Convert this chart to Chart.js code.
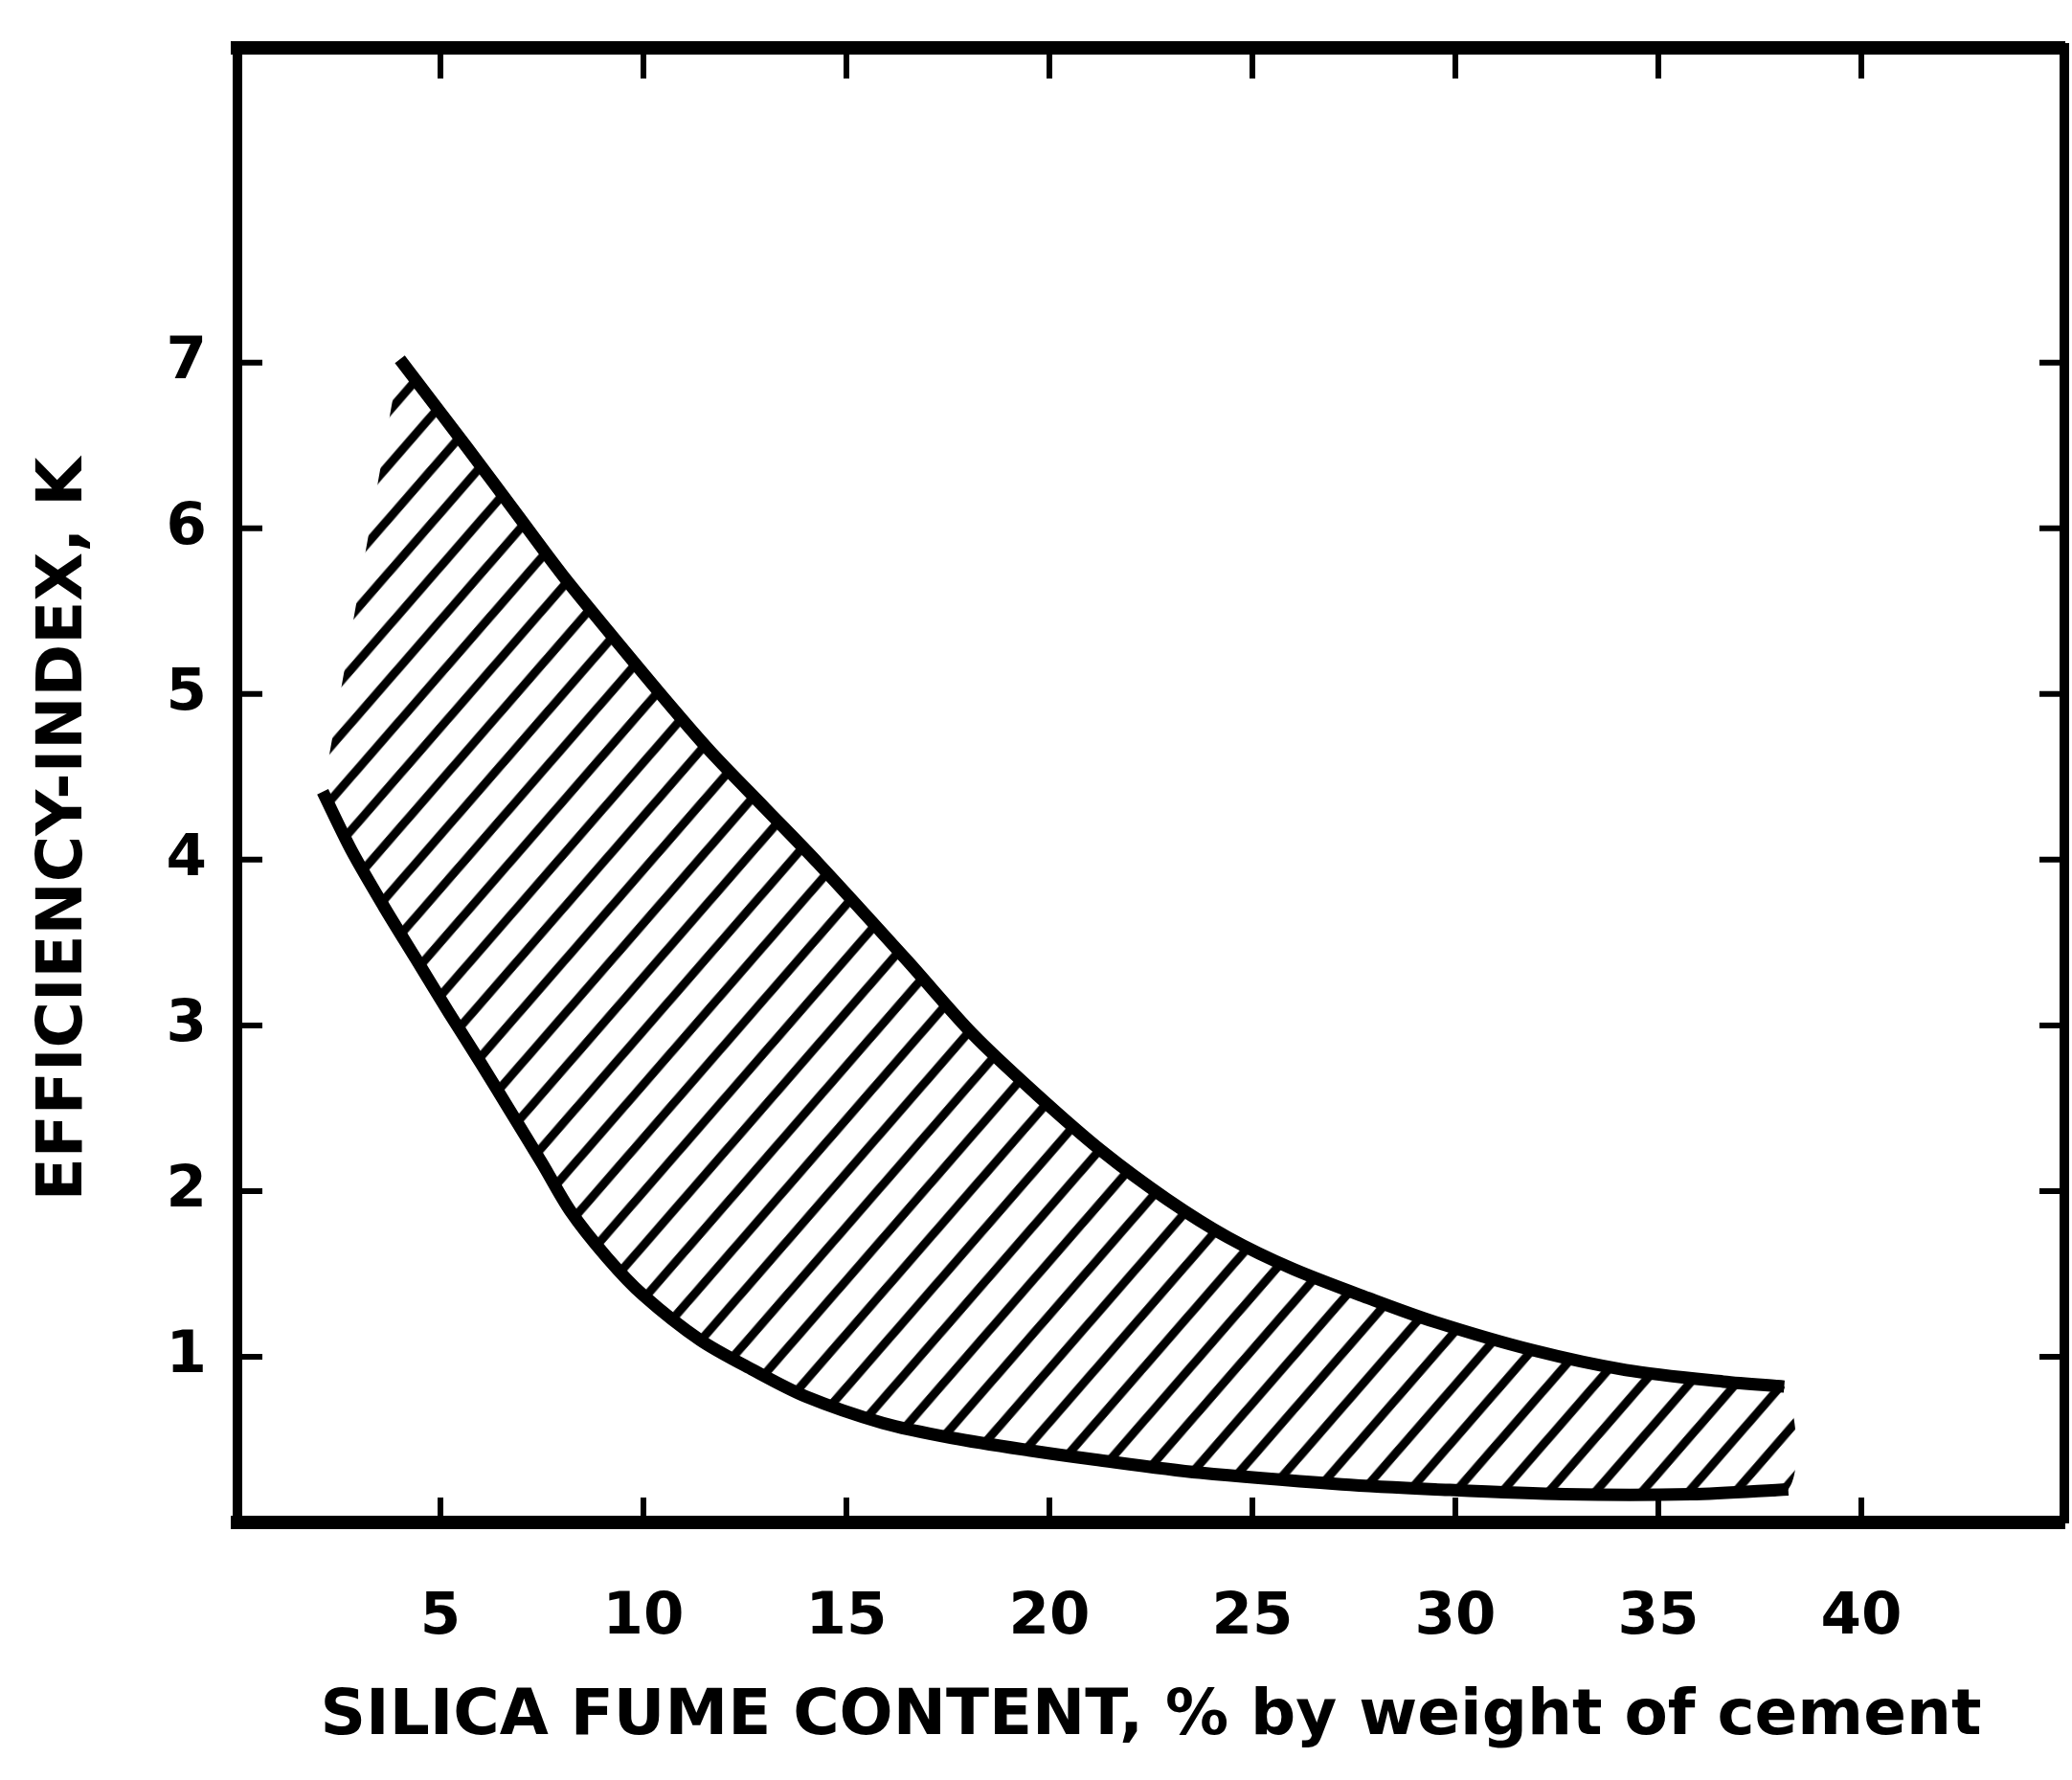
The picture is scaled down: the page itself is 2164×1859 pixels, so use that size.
<!DOCTYPE html>
<html>
<head>
<meta charset="utf-8">
<script src="https://cdn.jsdelivr.net/npm/chart.js@4/dist/chart.umd.min.js"></script>
<style>
  body { margin: 0; background: #fff; }
  canvas { display: block; }
</style>
</head>
<body>
<canvas id="chart" width="2164" height="1859"></canvas>
<script>
// upper boundary of the band (silica fume %, K)
const upperX = [4.0, 5.65, 6.9, 8.0, 9.2, 10.7, 11.7, 13.0, 14.3, 16.5, 18.1, 19.7, 21.3, 22.9, 24.4, 26.0, 27.9, 29.5, 31.9, 34.2, 36.6, 38.1];
const upperY = [7.02, 6.49, 6.08, 5.72, 5.36, 4.92, 4.64, 4.31, 3.98, 3.39, 2.95, 2.58, 2.24, 1.95, 1.72, 1.53, 1.35, 1.21, 1.04, 0.92, 0.85, 0.82];

// lower boundary of the band
const lowerX = [2.1, 2.8, 3.6, 4.4, 5.2, 6.0, 6.7, 7.5, 8.2, 9.1, 10.0, 11.4, 12.7, 14.0, 15.9, 17.6, 19.5, 21.1, 23.7, 27.2, 29.5, 32.7, 35.8, 38.2];
const lowerY = [4.41, 4.06, 3.72, 3.4, 3.08, 2.77, 2.49, 2.17, 1.88, 1.6, 1.37, 1.1, 0.92, 0.76, 0.6, 0.51, 0.435, 0.38, 0.3, 0.23, 0.2, 0.17, 0.17, 0.2];

const xTicks = [5, 10, 15, 20, 25, 30, 35, 40];
const yTicks = [1, 2, 3, 4, 5, 6, 7];

const xTitle = "SILICA FUME CONTENT, % by weight of cement";
const yTitle = "EFFICIENCY-INDEX, K";

function toPoints(xs, ys) {
  return xs.map((x, i) => ({ x: x, y: ys[i] }));
}

// closed outline of the hatched band: upper curve out, lower curve back
const bandPoints = toPoints(upperX, upperY).concat(
  toPoints(lowerX, lowerY).reverse()
);

function makeHatch() {
  const size = 52;
  const c = document.createElement("canvas");
  c.width = size;
  c.height = size;
  const g = c.getContext("2d");
  g.strokeStyle = "#000";
  g.lineWidth = 9;
  g.beginPath();
  g.moveTo(0, size);
  g.lineTo(size, 0);
  g.moveTo(-size / 2, size / 2);
  g.lineTo(size / 2, -size / 2);
  g.moveTo(size / 2, size * 1.5);
  g.lineTo(size * 1.5, size / 2);
  g.stroke();
  const pattern = g.createPattern(c, "repeat");
  // a little steeper than 45 degrees, like the drawing
  pattern.setTransform(new DOMMatrix().rotate(-4));
  return pattern;
}

// short tick marks pointing into the plot on all four sides
const inwardTicks = {
  id: "inwardTicks",
  afterDraw(chart) {
    const { ctx, chartArea, scales } = chart;
    ctx.save();
    ctx.strokeStyle = "#000";
    ctx.lineWidth = 6;
    ctx.beginPath();
    xTicks.forEach((v) => {
      const px = scales.x.getPixelForValue(v);
      ctx.moveTo(px, chartArea.bottom);
      ctx.lineTo(px, chartArea.bottom - 26);
      ctx.moveTo(px, chartArea.top);
      ctx.lineTo(px, chartArea.top + 32);
    });
    yTicks.forEach((v) => {
      const py = scales.y.getPixelForValue(v);
      ctx.moveTo(chartArea.left, py);
      ctx.lineTo(chartArea.left + 26, py);
      ctx.moveTo(chartArea.right, py);
      ctx.lineTo(chartArea.right - 26, py);
    });
    ctx.stroke();
    ctx.restore();
  },
};

Chart.defaults.font.family = "'DejaVu Sans', sans-serif";
Chart.defaults.font.weight = "bold";
Chart.defaults.color = "#000";

const ctx = document.getElementById("chart").getContext("2d");

new Chart(ctx, {
  type: "line",
  data: {
    datasets: [
      {
        data: toPoints(upperX, upperY),
        borderColor: "#000",
        borderWidth: 13,
        tension: 0.3,
        pointRadius: 0,
        fill: false,
        order: 1,
      },
      {
        data: toPoints(lowerX, lowerY),
        borderColor: "#000",
        borderWidth: 13,
        tension: 0.3,
        pointRadius: 0,
        fill: false,
        order: 1,
      },
      {
        data: bandPoints,
        borderWidth: 0,
        borderColor: "rgba(0,0,0,0)",
        backgroundColor: makeHatch(),
        tension: 0.3,
        pointRadius: 0,
        fill: "shape",
        order: 2,
      },
    ],
  },
  options: {
    responsive: false,
    animation: false,
    events: [],
    layout: { padding: 0 },
    plugins: {
      legend: { display: false },
      tooltip: { enabled: false },
    },
    scales: {
      x: {
        type: "linear",
        position: "bottom",
        min: 0,
        max: 45,
        afterBuildTicks: (scale) => {
          scale.ticks = xTicks.map((v) => ({ value: v }));
        },
        afterFit: (scale) => {
          scale.height = 269;
          scale.paddingLeft = 0;
          scale.paddingRight = 0;
        },
        grid: { drawOnChartArea: false, drawTicks: false },
        border: { color: "#000", width: 14 },
        ticks: { font: { size: 61 }, padding: 64, maxRotation: 0 },
        title: {
          display: true,
          text: xTitle,
          font: { size: 66 },
          padding: { top: 0, bottom: 26 },
        },
      },
      x2: {
        type: "linear",
        position: "top",
        min: 0,
        max: 45,
        afterFit: (scale) => {
          scale.height = 50;
        },
        grid: { drawOnChartArea: false, drawTicks: false },
        border: { color: "#000", width: 14 },
        ticks: { display: false },
      },
      y: {
        type: "linear",
        position: "left",
        min: 0,
        max: 8.9,
        afterBuildTicks: (scale) => {
          scale.ticks = yTicks.map((v) => ({ value: v }));
        },
        afterFit: (scale) => {
          scale.width = 248;
          scale.paddingTop = 0;
          scale.paddingBottom = 0;
        },
        grid: { drawOnChartArea: false, drawTicks: false },
        border: { color: "#000", width: 10 },
        ticks: { font: { size: 61 }, padding: 32 },
        title: {
          display: true,
          // trailing spaces nudge the rotated label down like the original
          text: yTitle + "    ",
          font: { size: 66 },
          padding: { top: 28, bottom: 0 },
        },
      },
      y2: {
        type: "linear",
        position: "right",
        min: 0,
        max: 8.9,
        afterFit: (scale) => {
          scale.width = 8;
          scale.paddingTop = 0;
          scale.paddingBottom = 0;
        },
        grid: { drawOnChartArea: false, drawTicks: false },
        border: { color: "#000", width: 10 },
        ticks: { display: false },
      },
    },
  },
  plugins: [inwardTicks],
});
</script>
</body>
</html>
